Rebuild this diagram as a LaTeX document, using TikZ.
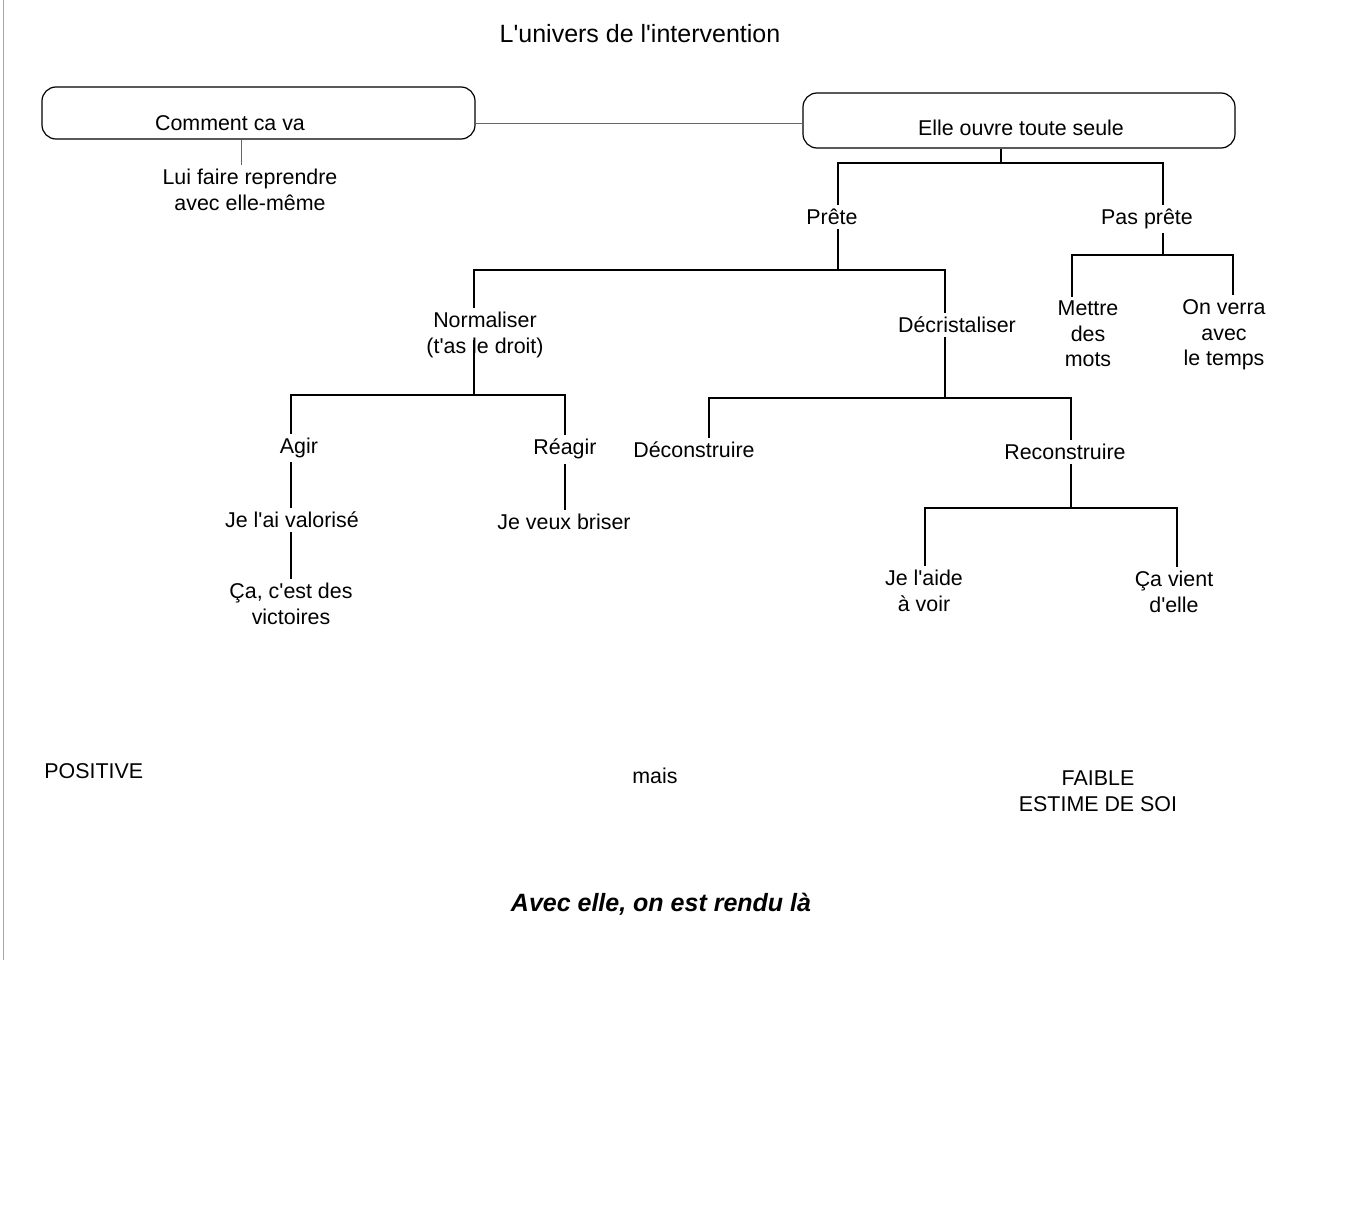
\documentclass[tikz,border=0pt]{standalone}
\usepackage{fontspec}
\setmainfont{Liberation Sans}
\newcommand{\apo}{\textquotesingle}
\begin{document}
\begin{tikzpicture}[x=0.5pt,y=-0.5pt,
  lbl/.style={inner sep=2pt, align=center, font=\fontsize{10.7}{12.8}\selectfont},
  big/.style={inner sep=2pt, font=\fontsize{12.5}{15}\selectfont},
  frame/.style={draw, rounded corners=7pt, line width=0.6pt, inner sep=0pt},
  link/.style={line width=0.85pt},
  faint/.style={line width=0.4pt, black!60}]
\useasboundingbox (0,0) rectangle (1371,1215);

% page edge
\draw[black!35, line width=0.5pt] (3,0) -- (3,960);

% title
\node[big] (title) at (640,34) {L\apo univers de l\apo intervention};

% the two framed entries
\node[frame, minimum width=216.5pt, minimum height=26pt] (b1) at (258.5,113) {};
\node[lbl] (t1) at (230,123) {Comment ca va};
\node[frame, minimum width=216pt, minimum height=27.5pt] (b2) at (1019,120.5) {};
\node[lbl] (t2) at (1021,128) {Elle ouvre toute seule};

% tree labels
\node[lbl] (lui) at (250,190) {Lui faire reprendre\\avec elle-même};
\node[lbl] (prete) at (832,217) {Prête};
\node[lbl] (pas) at (1147,219) {Pas prête};
\node[lbl] (norm) at (485,335) {Normaliser\\(t\apo as le droit)};
\node[lbl] (decr) at (957,325) {Décristaliser};
\node[lbl] (mots) at (1088,334) {Mettre\\des\\mots};
\node[lbl] (verra) at (1224,335) {On verra\\avec\\le temps};
\node[lbl] (agir) at (299,448) {Agir};
\node[lbl] (reag) at (565,449) {Réagir};
\node[lbl] (deco) at (694,450) {Déconstruire};
\node[lbl] (reco) at (1065,452) {Reconstruire};
\node[lbl] (valo) at (292,520) {Je l\apo ai valorisé};
\node[lbl] (bris) at (564,522) {Je veux briser};
\node[lbl] (vict) at (291,604) {Ça, c\apo est des\\victoires};
\node[lbl] (aide) at (924,591) {Je l\apo aide\\à voir};
\node[lbl] (vient) at (1174,592) {Ça vient\\d\apo elle};

% bottom line
\node[lbl, anchor=west] (pos) at (40,771) {POSITIVE};
\node[lbl] (mais) at (655,776) {mais};
\node[lbl] (faible) at (1098,791) {FAIBLE\\ESTIME DE SOI};
\node[big, font=\fontsize{12.5}{15}\bfseries\itshape\selectfont] (rendu) at (661,904) {Avec elle, on est rendu là};

% junction points
\coordinate (j1) at (1001,163);
\coordinate (j2) at (838,270);
\coordinate (j3) at (474,395);
\coordinate (j4) at (945,398);
\coordinate (j5) at (1071,508);
\coordinate (j6) at (1163,255);
\coordinate (nstem) at (474,340);

% connectors
\draw[faint] (b1.east |- t1) -- (b2.west |- t1);
\draw[faint] (b1.south -| 241,0) -- (lui.north -| 241,0);

\draw[link] (b2.south -| j1) -- (j1);
\draw[link] (prete.north -| 838,0) |- (j1) -| (pas.north -| 1163,0);

\draw[link] (prete.south -| j2) -- (j2);
\draw[link] (norm.north -| 474,0) |- (j2) -| (decr.north -| 945,0);

\draw[link] (pas.south -| j6) -- (j6);
\draw[link] (mots.north -| 1072,0) |- (j6) -| (verra.north -| 1233,0);

\draw[link] (nstem) -- (j3);
\draw[link] (agir.north -| 291,0) |- (j3) -| (reag.north -| 565,0);

\draw[link] (decr.south -| j4) -- (j4);
\draw[link] (deco.north -| 709,0) |- (j4) -| (reco.north -| 1071,0);

\draw[link] (agir.south -| 291,0) -- (valo.north -| 291,0);
\draw[link] (valo.south -| 291,0) -- (vict.north -| 291,0);
\draw[link] (reag.south -| 565,0) -- (bris.north -| 565,0);

\draw[link] (reco.south -| j5) -- (j5);
\draw[link] (aide.north -| 925,0) |- (j5) -| (vient.north -| 1177,0);
\end{tikzpicture}
\end{document}
